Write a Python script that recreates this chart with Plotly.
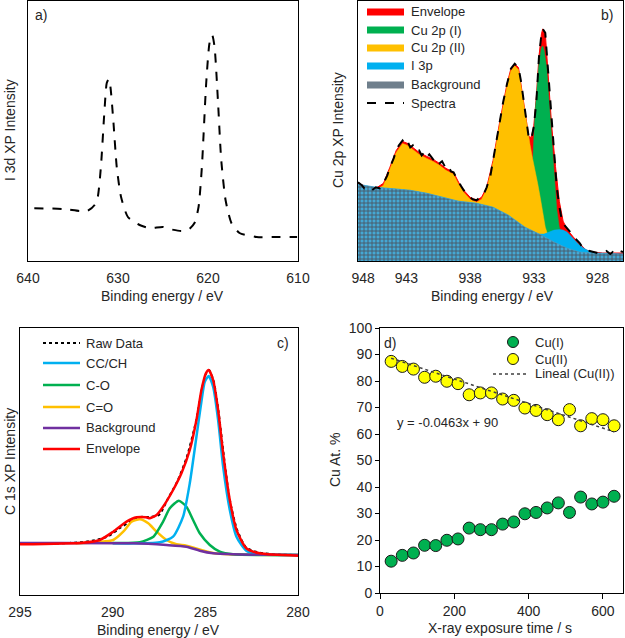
import plotly.graph_objects as go

W, H = 625, 638
FONT = "Liberation Sans, Arial, sans-serif"
TXT = "#262626"

# ---------------- Panel a: I 3d ----------------
a_be = [639.3, 636.1, 634.3, 633.4, 632.6, 632.25, 631.9, 631.5, 631.25, 631.03, 630.84, 630.5,
        630.14, 629.66, 628.9, 627.6, 626.5, 625.0, 624.3, 623.0, 622.2, 621.5, 621.05, 620.68,
        620.2, 619.83, 619.53, 619.27, 618.9, 618.53, 618.05, 617.4, 616.5, 614.6, 612.4, 610.1]
a_int = [52.7, 52, 50, 50, 56, 64, 94, 151, 178, 182, 174, 138,
         94, 64, 44, 36, 33, 34, 32, 30, 31, 38, 54, 94,
         178, 218, 226, 214, 161, 101, 61, 38, 28, 24, 24, 24]
a_ticks = [640, 630, 620, 610]

# ---------------- Panel b: Cu 2p ----------------
b_spec_be = [946.8, 946.5, 946.3, 946.0, 945.7, 945.4, 945.1, 944.8, 944.5, 944.3, 944.0, 943.8, 943.6,
             943.3, 943.1, 942.9, 942.7, 942.5, 942.3, 942.0, 941.8, 941.6, 941.4, 941.2, 940.9, 940.7,
             940.4, 940.2, 939.9, 939.7, 939.5, 939.3, 939.1, 938.9, 938.7, 938.5, 938.3, 938.0, 937.8,
             937.5, 937.3, 937.1, 936.9, 936.7, 936.4, 936.2, 935.9, 935.7, 935.4, 935.1, 934.8, 934.5,
             934.2, 934.0, 933.8, 933.6, 933.4, 933.2, 933.0, 932.8, 932.6, 932.4, 932.3, 932.1, 931.9,
             931.75, 931.6, 931.4, 931.2, 931.0, 930.8, 930.6, 930.4, 930.2, 929.9, 929.7, 929.4, 929.2,
             928.9, 928.6, 928.3, 928.0, 927.6, 927.3, 927.0, 926.8, 926.5, 926.2, 926.0]
b_spec_int = [79, 76, 73, 74, 71, 74, 73, 78, 86, 94, 103, 111, 116,
              121, 117, 120, 114, 116, 110, 111, 106, 109, 104, 107, 102, 104,
              98, 100, 93, 95, 90, 89, 84, 79, 75, 71, 68, 64, 62,
              61, 63, 64, 68, 74, 86, 101, 120, 138, 160, 178, 193, 198,
              194, 180, 161, 142, 124, 122, 135, 160, 204, 228, 233, 229, 194,
              160, 134, 100, 74, 55, 41, 36, 33, 30, 24, 22, 18, 14,
              11, 10, 9, 8, 8, 10, 7, 9, 7, 10, 9]

b_env_be = [946.8, 946.0, 945.4, 944.8, 944.3, 943.8, 943.3, 942.9, 942.5, 942.0, 941.4, 940.9, 940.4,
            939.9, 939.3, 938.9, 938.5, 938.0, 937.5, 937.1, 936.7, 936.2, 935.7, 935.1, 934.8, 934.5,
            934.2, 933.8, 933.4, 933.2, 933.0, 932.8, 932.6, 932.4, 932.3, 932.1, 931.9, 931.6, 931.3,
            931.0, 930.7, 930.4, 929.9, 929.4, 928.9, 928.3, 927.6, 926.0]
b_env_int = [78, 74, 73, 78, 94, 111, 120, 118, 114, 109, 105, 102, 98,
             93, 89, 79, 71, 64, 61, 64, 74, 101, 138, 178, 193, 198,
             194, 161, 125, 124, 136, 165, 205, 228, 233, 229, 195, 136, 95,
             60, 40, 32, 24, 17, 11, 9, 8, 8]

b_cu1_be = [946.8, 940.1, 936.2, 935.0, 934.0, 933.6, 933.3, 933.2, 933.1, 933.0, 932.9, 932.8, 932.6,
            932.4, 932.3, 932.2, 932.0, 931.9, 931.75, 931.6, 931.4, 931.2, 931.0, 930.8, 930.4, 930.0,
            929.4, 926.0]
b_cu1_int = [70, 60, 50, 42, 38, 48, 62, 72, 95, 125, 150, 165, 198,
             214, 216, 212, 195, 178, 150, 120, 85, 52, 34, 28, 18, 12,
             7, 5]

b_cu2_be = [946.8, 946.0, 945.4, 944.8, 944.3, 943.8, 943.3, 942.9, 942.5, 942.0, 941.4, 940.9, 940.4,
            939.9, 939.3, 938.9, 938.5, 938.0, 937.5, 937.1, 936.7, 936.2, 935.7, 935.1, 934.8, 934.5,
            934.2, 933.8, 933.4, 933.3, 933.1, 932.9, 932.7, 932.5, 932.3, 932.1, 931.9, 931.5, 930.5,
            929.5, 926.0]
b_cu2_int = [77, 72, 71, 76, 92, 109, 118, 116, 112, 107, 103, 100, 96,
             91, 87, 77, 69, 62, 59, 62, 72, 99, 136, 176, 191, 196,
             192, 158, 122, 117, 103, 92, 78, 64, 48, 34, 26, 20, 11,
             7, 5]

b_i3p_be = [946.8, 945.4, 944.0, 942.7, 941.4, 940.1, 938.9, 937.5, 936.2, 935.0, 933.7, 932.6, 932.2,
            931.8, 931.4, 931.0, 930.7, 930.4, 930.1, 929.8, 929.5, 929.1, 928.6, 928.0, 926.0]
b_i3p_int = [77, 74, 72.5, 71, 68, 64, 60, 58, 54, 46, 34, 27, 27,
             29, 31, 31.5, 31, 29, 25, 21, 17, 13, 9.5, 8, 7]

b_bg_be = [946.8, 945.4, 944.0, 942.7, 941.4, 940.1, 938.9, 937.5, 936.2, 935.0, 933.7, 932.4, 931.4,
           930.4, 929.4, 928.3, 926.0]
b_bg_int = [77, 74, 72.5, 71, 68, 64, 60, 58, 54, 46, 34, 26, 19, 13, 9, 8, 7]

b_tickvals = [946.4, 943, 938, 933, 928]
b_ticktext = ["948", "943", "938", "933", "928"]

# ---------------- Panel c: C 1s ----------------
c_raw_be = [295, 293, 291.6, 290.8, 290.2, 289.6, 289.0, 288.5, 288.0, 287.5, 287.0, 286.5, 286.0,
            285.5, 285.2, 284.95, 284.8, 284.55, 284.3, 284.0, 283.7, 283.3, 282.8, 282.1, 281, 280]
c_raw_int = [51, 51.5, 53, 55.5, 59, 67, 74, 78, 78, 80, 97, 114, 138,
             174, 205, 222, 225, 214, 185, 139, 97, 66, 47.5, 42.5, 40.5, 40]

c_bg_be = [295, 288.89, 287.10, 286.02, 285.30, 284.58, 283.50, 280.0]
c_bg_int = [52, 51.7, 50, 48.3, 44.3, 41.7, 40.7, 40]

c_cc_be = [290.0, 287.46, 286.74, 286.2, 285.84, 285.48, 285.2, 285.03, 284.82, 284.58, 284.31,
           284.04, 283.68, 283.32, 282.79, 282.07, 280.0]
c_cc_int = [51.7, 52.7, 58.3, 78.3, 111.7, 158.3, 195, 213.3, 219, 208.3, 175,
            128.3, 85, 58.3, 44.3, 40.7, 40]

c_co_be = [290.0, 288.53, 287.8, 287.28, 286.92, 286.43, 286.02, 285.66, 285.3, 284.76, 284.22, 283.5, 280.0]
c_co_int = [52, 52.7, 58.3, 73.3, 86.7, 94.3, 88.3, 75, 61.7, 50, 43.3, 40.7, 40]

c_cdo_be = [292.0, 289.97, 289.43, 288.98, 288.53, 288.08, 287.63, 287.1, 286.56, 286.02, 284.5, 280]
c_cdo_int = [51.7, 55, 63.3, 73.3, 75.7, 71.7, 63.3, 55, 50.7, 49.3, 41.7, 40]

c_env_be = [295, 291.6, 290.69, 289.97, 289.25, 288.71, 288.2, 287.99, 287.63, 287.28, 286.74, 286.29,
            285.84, 285.48, 285.21, 284.97, 284.82, 284.58, 284.31, 284.04, 283.68, 283.32, 282.79,
            282.07, 280]
c_env_int = [50.7, 52.3, 55, 63.3, 73.3, 77.7, 77.7, 76.7, 80, 88.3, 105, 121.7,
             145, 175, 205, 221.7, 225, 215, 185, 141.7, 95, 65, 46.7,
             41.7, 39.3]
c_ticks = [295, 290, 285, 280]

# ---------------- Panel d: Cu at.% ----------------
d_time = [30, 60, 90, 120, 150, 180, 210, 240, 270, 300, 330, 360, 390, 420, 450, 480, 510, 540, 570, 600, 630]
d_cu1 = [12, 14.2, 15.1, 18, 17.9, 19.9, 20.4, 24.5, 23.9, 23.9, 26, 26.8, 29.9, 30.4, 32.1, 34, 30.4,
         36.2, 33.6, 34.3, 36.5]
d_cu2 = [87.4, 85.5, 84.5, 81.4, 81.8, 79.9, 79, 74.8, 75.5, 75.5, 73.2, 72.7, 69.8, 68.9, 67.3, 65.4,
         69.2, 63.1, 65.8, 65.4, 63.1]
trend_slope, trend_intercept = -0.0463, 90
trend_x = [d_time[0], d_time[-1]]


def px(x):
    return x / W


def py(y):
    return 1 - y / H


fig = go.Figure()

# panel a
fig.add_trace(go.Scatter(x=a_be, y=a_int, mode="lines", xaxis="x", yaxis="y",
                         line=dict(color="black", width=2, dash="dash", shape="spline", smoothing=0.6),
                         showlegend=False))

# panel b (area layers)
RED, GREEN, YEL, BLUE = "#FF0000", "#00B050", "#FFC000", "#00B0F0"
fig.add_trace(go.Scatter(x=b_env_be, y=b_env_int, mode="lines", fill="tozeroy", fillcolor=RED,
                         line=dict(color=RED, width=1), xaxis="x2", yaxis="y2", showlegend=False))
fig.add_trace(go.Scatter(x=b_cu1_be, y=b_cu1_int, mode="lines", fill="tozeroy", fillcolor=GREEN,
                         line=dict(color=GREEN, width=0.5), xaxis="x2", yaxis="y2", showlegend=False))
fig.add_trace(go.Scatter(x=b_cu2_be, y=b_cu2_int, mode="lines", fill="tozeroy", fillcolor=YEL,
                         line=dict(color=YEL, width=0.5), xaxis="x2", yaxis="y2", showlegend=False))
fig.add_trace(go.Scatter(x=b_i3p_be, y=b_i3p_int, mode="lines", fill="tozeroy", fillcolor=BLUE,
                         line=dict(color=BLUE, width=0.5), xaxis="x2", yaxis="y2", showlegend=False))
fig.add_trace(go.Scatter(x=b_bg_be, y=b_bg_int, mode="lines", fill="tozeroy",
                         fillpattern=dict(shape="+", bgcolor="#45A8D4", fgcolor="#4a5763", size=4, solidity=0.4),
                         line=dict(color="#5a9fc0", width=0.5), xaxis="x2", yaxis="y2", showlegend=False))
fig.add_trace(go.Scatter(x=b_spec_be, y=b_spec_int, mode="lines", xaxis="x2", yaxis="y2",
                         line=dict(color="black", width=2, dash="dash"), showlegend=False))

# panel c
fig.add_trace(go.Scatter(x=c_raw_be, y=c_raw_int, mode="lines", xaxis="x3", yaxis="y3",
                         line=dict(color="black", width=2, dash="dot", shape="spline", smoothing=0.6),
                         showlegend=False))
for xs, ys, col in [(c_cdo_be, c_cdo_int, "#FFC000"), (c_co_be, c_co_int, "#00B050"),
                    (c_cc_be, c_cc_int, "#00B0F0"), (c_bg_be, c_bg_int, "#7030A0")]:
    fig.add_trace(go.Scatter(x=xs, y=ys, mode="lines", xaxis="x3", yaxis="y3",
                             line=dict(color=col, width=2.5, shape="spline", smoothing=0.6),
                             showlegend=False))
fig.add_trace(go.Scatter(x=c_env_be, y=c_env_int, mode="lines", xaxis="x3", yaxis="y3",
                         line=dict(color="#FF0000", width=2.5, shape="spline", smoothing=0.6),
                         showlegend=False))

# panel d
fig.add_trace(go.Scatter(x=d_time, y=d_cu1, mode="markers", xaxis="x4", yaxis="y4",
                         marker=dict(size=12, color="#00B050", line=dict(color="#1a1a1a", width=1)),
                         showlegend=False))
fig.add_trace(go.Scatter(x=d_time, y=d_cu2, mode="markers", xaxis="x4", yaxis="y4",
                         marker=dict(size=12, color="#FFFF00", line=dict(color="#1a1a1a", width=1)),
                         showlegend=False))
fig.add_trace(go.Scatter(x=trend_x, y=[trend_slope * t + trend_intercept for t in trend_x], mode="lines",
                         xaxis="x4", yaxis="y4", line=dict(color="#404040", width=1.5, dash="dot"),
                         showlegend=False))

axis_common = dict(showline=True, linecolor="black", linewidth=1, mirror=True, showgrid=False,
                   zeroline=False, automargin=False, tickfont=dict(family=FONT, size=14, color=TXT))

fig.update_layout(
    template="none",
    width=W, height=H, margin=dict(l=0, r=0, t=0, b=0, pad=0, autoexpand=False),
    paper_bgcolor="white", plot_bgcolor="white",
    font=dict(family=FONT, size=14, color=TXT),
    xaxis=dict(domain=[px(28), px(298)], range=[640, 610], tickvals=a_ticks, anchor="y",
               ticks="", ticklabelstandoff=4, **axis_common),
    yaxis=dict(domain=[py(261), py(1)], range=[0, 260], showticklabels=False, ticks="", anchor="x",
               **axis_common),
    xaxis2=dict(domain=[px(358), px(623)], range=[946.8, 926.0], tickvals=b_tickvals, ticktext=b_ticktext,
                anchor="y2", ticks="", ticklabelstandoff=4, **axis_common),
    yaxis2=dict(domain=[py(261), py(1)], range=[0, 261], showticklabels=False, ticks="", anchor="x2",
                **axis_common),
    xaxis3=dict(domain=[px(20), px(298)], range=[295, 280], tickvals=c_ticks, anchor="y3",
                ticks="", ticklabelstandoff=4, **axis_common),
    yaxis3=dict(domain=[py(595), py(328)], range=[0, 267], showticklabels=False, ticks="", anchor="x3",
                **axis_common),
    xaxis4=dict(domain=[px(380), px(623)], range=[0, 654], tickvals=[0, 200, 400, 600], anchor="y4",
                ticks="outside", ticklen=5, tickcolor="black", **axis_common),
    yaxis4=dict(domain=[py(593), py(328)], range=[0, 100], dtick=10, anchor="x4",
                ticks="outside", ticklen=4, tickcolor="black", **axis_common),
)

ann = []
shapes = []


def text(x, y, s, size=14, xanchor="center", angle=0):
    ann.append(dict(x=px(x), y=py(y), xref="paper", yref="paper", text=s, showarrow=False,
                    xanchor=xanchor, yanchor="middle", textangle=angle,
                    font=dict(family=FONT, size=size, color=TXT)))


# axis titles
text(163, 296, "Binding energy / eV")
text(10, 130, "I 3d XP Intensity", angle=-90)
text(492, 296, "Binding energy / eV")
text(338, 130, "Cu 2p XP Intensity", angle=-90)
text(158, 630, "Binding energy / eV")
text(10, 462, "C 1s XP Intensity", angle=-90)
text(500, 628, "X-ray exposure time / s")
text(335, 460, "Cu At. %", angle=-90)

# panel labels
text(41, 15, "a)")
text(607, 15, "b)")
text(283, 343, "c)")
text(390, 343, "d)")

# legend b
leg_b = [("Envelope", RED), ("Cu 2p (I)", GREEN), ("Cu 2p (II)", YEL), ("I 3p", BLUE),
         ("Background", "#6f7f8c"), ("Spectra", None)]
ys_b = [12, 30, 48, 66, 85, 103]
for (lab, col), yy in zip(leg_b, ys_b):
    if col is None:
        shapes.append(dict(type="line", xref="paper", yref="paper", x0=px(367), x1=px(404), y0=py(yy), y1=py(yy),
                           line=dict(color="black", width=2, dash="dash")))
    else:
        shapes.append(dict(type="rect", xref="paper", yref="paper", x0=px(367), x1=px(404), y0=py(yy + 3.5),
                           y1=py(yy - 3.5), fillcolor=col, line=dict(width=0)))
    text(409, yy, lab, size=13, xanchor="left")

# legend c
leg_c = [("Raw Data", "black", "dot"), ("CC/CH", "#00B0F0", "solid"), ("C-O", "#00B050", "solid"),
         ("C=O", "#FFC000", "solid"), ("Background", "#7030A0", "solid"), ("Envelope", "#FF0000", "solid")]
ys_c = [343, 363, 385, 407, 428, 449]
for (lab, col, dash), yy in zip(leg_c, ys_c):
    shapes.append(dict(type="line", xref="paper", yref="paper", x0=px(43), x1=px(80), y0=py(yy), y1=py(yy),
                       line=dict(color=col, width=2 if dash == "dot" else 2.5, dash=dash)))
    text(84, yy, lab, size=13, xanchor="left")

# legend d
for yy, col in [(342, "#00B050"), (359, "#FFFF00")]:
    shapes.append(dict(type="circle", xref="paper", yref="paper", x0=px(507.5), x1=px(518.5),
                       y0=py(yy + 5.5), y1=py(yy - 5.5), fillcolor=col, line=dict(color="#1a1a1a", width=1)))
text(533, 342, "Cu(I)", size=13, xanchor="left")
text(533, 359, "Cu(II)", size=13, xanchor="left")
shapes.append(dict(type="line", xref="paper", yref="paper", x0=px(493), x1=px(528), y0=py(374), y1=py(374),
                   line=dict(color="#404040", width=1.5, dash="dot")))
text(533, 374, "Lineal (Cu(II))", size=13, xanchor="left")
text(395, 422, "y = -0.0463x + 90", size=13, xanchor="left")

fig.update_layout(annotations=ann, shapes=shapes)
fig.write_html("out.html", config={"displayModeBar": False},
               post_script="document.body.style.margin='0';document.body.style.overflow='hidden';")
